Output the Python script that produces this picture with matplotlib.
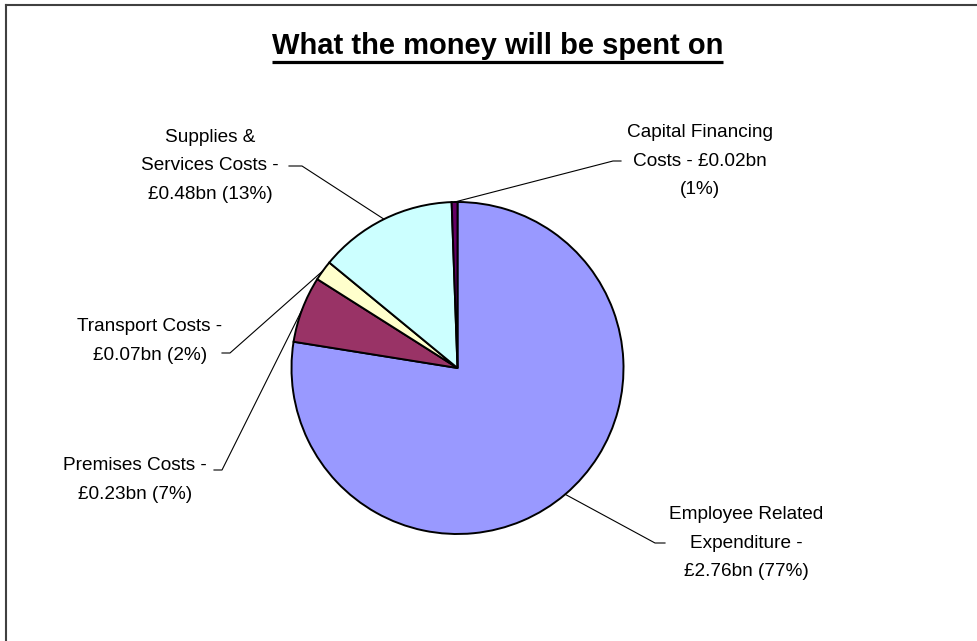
import matplotlib
matplotlib.use("Agg")
import matplotlib.pyplot as plt
import numpy as np

# pie data (clockwise from 12 o'clock, like the original Excel chart)
categories = ['Employee Related Expenditure', 'Premises Costs', 'Transport Costs',
              'Supplies & Services Costs', 'Capital Financing Costs']
spend_bn = [2.76, 0.23, 0.07, 0.48, 0.02]
pct = [77, 7, 2, 13, 1]
colors = ['#9999FF', '#993366', '#FFFFCC', '#CCFFFF', '#660066']

labels = ['Employee Related\nExpenditure -\n£%.2fbn (%d%%)',
          'Premises Costs -\n£%.2fbn (%d%%)',
          'Transport Costs -\n£%.2fbn (%d%%)',
          'Supplies &\nServices Costs -\n£%.2fbn (%d%%)',
          'Capital Financing\nCosts - £%.2fbn\n(%d%%)']

W, H = 977, 641
fig = plt.figure(figsize=(W / 100, H / 100), dpi=100)
ax = fig.add_axes([0, 0, 1, 1])
ax.set_aspect('equal')

cx, cy, r = 457.5, H - 368, 166
wedges, _ = ax.pie(spend_bn, colors=colors, startangle=90, counterclock=False,
                   center=(cx, cy), radius=r, frame=True,
                   wedgeprops=dict(edgecolor='black', linewidth=1.4))
ax.set_xlim(0, W)
ax.set_ylim(0, H)
ax.axis('off')

# label layout: text centre (x, y from top), stub start, stub end (y from top)
lay = [
    dict(tx=746, ty=543, s0=(665, 543), s1=(655, 543)),
    dict(tx=135, ty=480, s0=(214, 470), s1=(222, 470)),
    dict(tx=150, ty=341, s0=(222, 353), s1=(230, 353)),
    dict(tx=210, ty=166, s0=(289, 166), s1=(302, 166)),
    dict(tx=700, ty=161, s0=(621, 161), s1=(613, 161)),
]

font = ['Liberation Sans', 'DejaVu Sans']
for w, lab, v, p, L in zip(wedges, labels, spend_bn, pct, lay):
    ang = np.deg2rad((w.theta1 + w.theta2) / 2)
    ex, ey = cx + r * np.cos(ang), cy + r * np.sin(ang)
    ax.plot([L['s0'][0], L['s1'][0], ex], [H - L['s0'][1], H - L['s1'][1], ey],
            color='black', lw=0.8)
    ax.text(L['tx'], H - L['ty'], lab % (v, p), ha='center', va='center',
            fontsize=13.7, family=font, linespacing=1.85, color='black')

title = ax.text(497.5, H - 54, 'What the money will be spent on', ha='center',
                va='baseline', fontsize=21, fontweight='bold', family=font)
fig.canvas.draw()
bb = title.get_window_extent(fig.canvas.get_renderer())
ax.plot([bb.x0, bb.x1], [H - 62, H - 62], color='black', lw=2.3,
        solid_capstyle='butt')

# chart area border (only top and left edges visible in the original)
ax.plot([6, W], [H - 5, H - 5], color='#404040', lw=1.5, clip_on=False)
ax.plot([6, 6], [H - 5, 0], color='#404040', lw=1.5, clip_on=False)

fig.savefig('out.png', dpi=100, facecolor='white')
